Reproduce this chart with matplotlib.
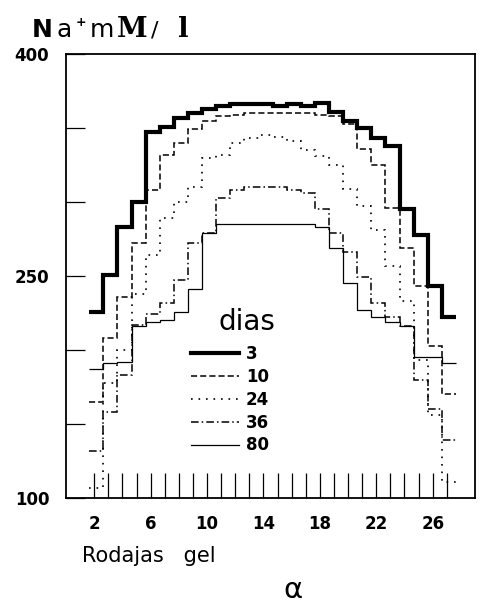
import numpy as np
import matplotlib.pyplot as plt

# gel slices and Na+ concentration (mM/l)
slices = np.arange(2, 28)
na_3 = [226, 251, 283, 300, 347, 351, 357, 360, 363, 365, 366, 366, 366,
        365, 366, 365, 367, 361, 355, 350, 343, 338, 295, 278, 243, 222]
na_10 = [165, 208, 236, 272, 308, 332, 340, 349, 355, 358, 359, 360, 360,
         360, 360, 360, 359, 358, 353, 336, 325, 296, 269, 243, 203, 170]
na_24 = [107, 178, 200, 238, 264, 289, 300, 310, 330, 332, 340, 343, 345,
         344, 341, 335, 331, 325, 309, 297, 281, 257, 233, 193, 156, 111]
na_36 = [132, 158, 183, 217, 224, 232, 247, 272, 279, 303, 308, 310, 310,
         310, 308, 306, 295, 279, 266, 249, 232, 222, 216, 180, 160, 139]
na_80 = [187, 191, 192, 216, 219, 220, 226, 241, 279, 285, 285, 285, 285,
         285, 285, 285, 283, 269, 245, 227, 222, 219, 216, 195, 195, 191]
dias = ["3", "10", "24", "36", "80"]

xticks = [2, 6, 10, 14, 18, 22, 26]
yticks = [100, 250, 400]

fig = plt.figure(figsize=(4.8, 6.04), dpi=100)
ax = fig.add_axes([66/480, 1 - 498/604, 409/480, 444/604])

edges = np.append(slices, slices[-1] + 1) - 0.35
series = [na_3, na_10, na_24, na_36, na_80]
styles = [("-", 3.0), ((0, (4, 2)), 1.1), ((0, (1, 3.5)), 1.2),
          ((0, (5, 2, 1, 2)), 1.1), ("-", 0.9)]
for vals, lab, (ls, lw) in zip(series, dias, styles):
    ax.stairs(vals, edges, baseline=None, color="black", linestyle=ls,
              linewidth=lw, label=lab)

ax.set_xlim(0, 29)
ax.set_ylim(100, 400)

ax.set_xticks(xticks)
ax.set_xticks([s for s in slices if s not in xticks], minor=True)
ax.set_yticks(yticks)
ax.set_yticks([150, 200, 300, 350], minor=True)
ax.tick_params(axis="x", which="both", direction="in", length=18, width=0.9, pad=12,
               labelsize=12)
ax.tick_params(axis="y", which="both", direction="in", length=14, width=0.9, pad=12,
               labelsize=12)
for t in ax.get_xticklabels() + ax.get_yticklabels():
    t.set_fontweight("bold")
for sp in ax.spines.values():
    sp.set_linewidth(1.3)

leg = ax.legend(loc="upper left", bbox_to_anchor=(0.285, 0.363),
                frameon=False, handlelength=2.9, labelspacing=0.29,
                handletextpad=0.4, borderpad=0,
                prop={"weight": "bold", "size": 12})
ax.text(0.372, 0.378, "dias", transform=ax.transAxes, fontsize=20,
        va="baseline")

# y label built from pieces, as in the original lettering
ybase = 1 - 37/604
fig.text(32/480, ybase, "N", fontsize=18, fontweight="bold", va="baseline")
fig.text(56/480, ybase, "a", fontsize=18, va="baseline")
fig.text(76/480, 1 - 26/604, "+", fontsize=9, fontweight="bold", va="baseline")
fig.text(90/480, ybase, "m", fontsize=18, va="baseline")
fig.text(117/480, ybase, "M", fontsize=20, fontweight="bold", family="DejaVu Serif",
         va="baseline")
fig.text(151/480, ybase, "/", fontsize=16, va="baseline")
fig.text(178/480, ybase, "l", fontsize=20, fontweight="bold", family="DejaVu Serif",
         va="baseline")

fig.text(82/480, 1 - 562/604, "Rodajas   gel", fontsize=15, va="baseline")
fig.text(293/480, 1 - 590/604, "α", fontsize=21, ha="center", va="center")

plt.savefig("out.png", dpi=100)
